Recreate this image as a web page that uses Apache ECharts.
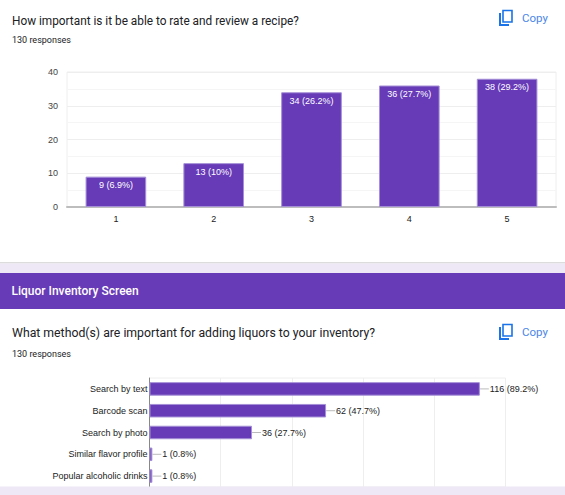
<!DOCTYPE html>
<html>
<head>
<meta charset="utf-8">
<script src="https://cdn.jsdelivr.net/npm/echarts@6/dist/echarts.min.js"></script>
<style>
html,body{margin:0;padding:0;background:#fff;}
#c{width:565px;height:495px;}
</style>
</head>
<body>
<div id="c"></div>
<script>
// ---- Data ----
const title1 = 'How important is it be able to rate and review a recipe?';
const responses1 = '130 responses';
const categories1 = ['1', '2', '3', '4', '5'];
const values1 = [9, 13, 34, 36, 38];
const percents1 = ['6.9%', '10%', '26.2%', '27.7%', '29.2%'];
const yTicks1 = [0, 10, 20, 30, 40];

const sectionTitle = 'Liquor Inventory Screen';
const title2 = 'What method(s) are important for adding liquors to your inventory?';
const responses2 = '130 responses';
const categories2 = ['Search by text', 'Barcode scan', 'Search by photo', 'Similar flavor profile', 'Popular alcoholic drinks'];
const values2 = [116, 62, 36, 1, 1];
const percents2 = ['89.2%', '47.7%', '27.7%', '0.8%', '0.8%'];
const xTicks2 = [0, 25, 50, 75, 100, 125];

const copyLabel = 'Copy';

// ---- Styles ----
const PURPLE = '#673ab7';
const LAVENDER = '#ede7f6';
const BLUE = '#1a73e8';
const COPYTXT = '#4a86e8';
const TXT = '#202124';
const CHARTFONT = 'Arial, "Liberation Sans", sans-serif';
const UIFONT = 'Roboto, "Noto Sans", sans-serif';

const chart = echarts.init(document.getElementById('c'), null, {renderer: 'svg'});

function copyIcon(x, y) {
  return [
    {type: 'polyline', z: 5, shape: {points: [[x + 1, y + 3], [x + 1, y + 15], [x + 10, y + 15]]},
     style: {stroke: BLUE, lineWidth: 2, fill: null}},
    {type: 'rect', z: 5, shape: {x: x + 4, y: y + 0.5, width: 9, height: 11.5},
     style: {stroke: BLUE, lineWidth: 1.6, fill: null}},
    {type: 'text', z: 5, x: x + 23, y: y + 8,
     style: {text: copyLabel, fill: COPYTXT, font: '11.5px ' + UIFONT, textVerticalAlign: 'middle'}}
  ];
}

const graphics = [
  // backgrounds
  {type: 'rect', z: -20, shape: {x: 0, y: 0, width: 565, height: 262}, style: {fill: '#fff'}},
  {type: 'rect', z: -20, shape: {x: 0, y: 262, width: 565, height: 1.5}, style: {fill: '#dcdcdc'}},
  {type: 'rect', z: -20, shape: {x: 0, y: 263.5, width: 565, height: 10}, style: {fill: LAVENDER}},
  {type: 'rect', z: -20, shape: {x: 0, y: 273, width: 565, height: 36}, style: {fill: PURPLE}},
  {type: 'rect', z: -20, shape: {x: 0, y: 309, width: 565, height: 178}, style: {fill: '#fff'}},
  {type: 'rect', z: 50, shape: {x: 0, y: 486.5, width: 565, height: 9}, style: {fill: LAVENDER}},
  // texts
  {type: 'text', z: 5, x: 12, y: 20.5, scaleX: 0.91, style: {text: title1, fill: TXT, font: '13px ' + UIFONT, textVerticalAlign: 'middle'}},
  {type: 'text', z: 5, x: 12, y: 40, style: {text: responses1, fill: TXT, font: '9px ' + UIFONT, textVerticalAlign: 'middle'}},
  {type: 'text', z: 5, x: 11.5, y: 291, style: {text: sectionTitle, fill: '#fff', font: '500 12px ' + UIFONT, textVerticalAlign: 'middle'}},
  {type: 'text', z: 5, x: 12, y: 332.5, scaleX: 0.945, style: {text: title2, fill: TXT, font: '13px ' + UIFONT, textVerticalAlign: 'middle'}},
  {type: 'text', z: 5, x: 12, y: 354, style: {text: responses2, fill: TXT, font: '9px ' + UIFONT, textVerticalAlign: 'middle'}}
].concat(copyIcon(499, 10)).concat(copyIcon(499, 324));

const option = {
  animation: false,
  textStyle: {fontFamily: CHARTFONT},
  graphic: {elements: graphics},
  grid: [
    {left: 67, top: 72, width: 489, height: 135, show: true, borderColor: '#eeeeee', borderWidth: 1, backgroundColor: 'transparent'},
    {left: 149.5, top: 378, width: 356, height: 109, show: true, borderColor: '#eeeeee', borderWidth: 1, backgroundColor: 'transparent'}
  ],
  xAxis: [
    {type: 'category', gridIndex: 0, data: categories1,
     axisLine: {lineStyle: {color: '#bdbdbd', width: 2}}, axisTick: {show: false},
     axisLabel: {color: '#222', fontSize: 9, margin: 7}},
    {type: 'value', gridIndex: 1, min: xTicks2[0], max: xTicks2[xTicks2.length - 1], interval: 25,
     axisLine: {show: false}, axisTick: {show: false}, axisLabel: {show: false},
     splitLine: {lineStyle: {color: '#eeeeee'}}}
  ],
  yAxis: [
    {type: 'value', gridIndex: 0, min: yTicks1[0], max: yTicks1[yTicks1.length - 1], interval: 10,
     axisLine: {show: false}, axisTick: {show: false},
     axisLabel: {color: '#444', fontSize: 9, margin: 9},
     splitLine: {lineStyle: {color: '#eeeeee'}},
     minorTick: {show: false, splitNumber: 2},
     minorSplitLine: {show: true, lineStyle: {color: '#f5f5f5'}}},
    {type: 'category', gridIndex: 1, data: categories2, inverse: true,
     axisLine: {lineStyle: {color: '#888', width: 1}}, axisTick: {show: false},
     axisLabel: {color: '#222', fontSize: 9, margin: 2}}
  ],
  series: [
    {type: 'bar', xAxisIndex: 0, yAxisIndex: 0, data: values1, barWidth: '62%',
     itemStyle: {color: PURPLE, borderColor: '#a48fd6', borderWidth: 1},
     label: {show: true, position: 'insideTop', distance: 4, color: '#fff', fontSize: 9,
       formatter: p => p.value + ' (' + percents1[p.dataIndex] + ')'}},
    {type: 'bar', xAxisIndex: 1, yAxisIndex: 1, data: values2, barWidth: '62%',
     itemStyle: {color: PURPLE, borderColor: '#a48fd6', borderWidth: 1},
     label: {show: true, position: 'right', distance: 0, color: '#222', fontSize: 9,
       formatter: p => '{d|}{t|' + p.value + ' (' + percents2[p.dataIndex] + ')}',
       rich: {
         d: {width: 9, height: 1, backgroundColor: '#bbbbbb'},
         t: {fontSize: 9, color: '#222', padding: [0, 0, 0, 1]}
       }}}
  ]
};
chart.setOption(option);
</script>
</body>
</html>
